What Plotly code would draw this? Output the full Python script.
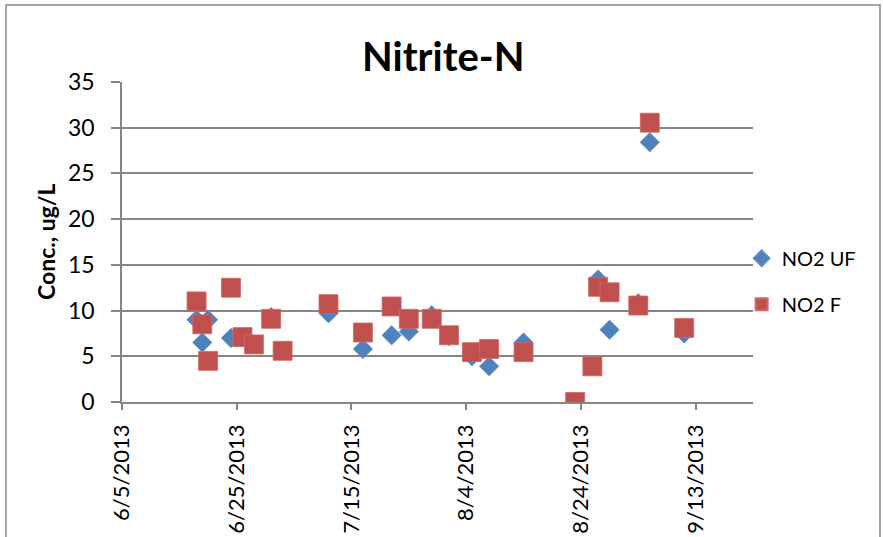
import plotly.graph_objects as go

# ---- data ----
dates = ["2013-06-18", "2013-06-19", "2013-06-20", "2013-06-24", "2013-06-26",
         "2013-06-28", "2013-07-01", "2013-07-03", "2013-07-11", "2013-07-17",
         "2013-07-22", "2013-07-25", "2013-07-29", "2013-08-01", "2013-08-05",
         "2013-08-08", "2013-08-14", "2013-08-23", "2013-08-26", "2013-08-27",
         "2013-08-29", "2013-09-03", "2013-09-05", "2013-09-11"]
no2_uf = [9.0, 6.5, 9.0, 7.0, 7.1, 6.3, 9.3, 5.6, 9.7, 5.8,
          7.3, 7.7, 9.5, 7.2, 5.0, 3.9, 6.5, 0.0, 3.9, 13.4,
          7.9, 10.8, 28.4, 7.5]
no2_f = [11.0, 8.5, 4.5, 12.5, 7.1, 6.3, 9.1, 5.6, 10.7, 7.6,
         10.45, 9.1, 9.1, 7.3, 5.45, 5.8, 5.45, 0.0, 3.9, 12.6,
         12.0, 10.55, 30.55, 8.1]

x_tick_vals = ["2013-06-05", "2013-06-25", "2013-07-15", "2013-08-04",
               "2013-08-24", "2013-09-13"]
x_tick_text = ["6/5/2013", "6/25/2013", "7/15/2013", "8/4/2013",
               "8/24/2013", "9/13/2013"]
x_range = ["2013-06-05", "2013-09-23"]
y_ticks = [0, 5, 10, 15, 20, 25, 30, 35]

BLUE = "#4F81BD"
RED = "#C0504D"
GRID = "#868686"
FONT = "Lato"

fig = go.Figure()
fig.add_trace(go.Scatter(
    x=dates, y=no2_uf, mode="markers", name="NO2 UF", legendgroup="a",
    marker=dict(symbol="diamond", size=15, color=BLUE,
                line=dict(width=0.5, color="#5B8CC6")),
))
fig.add_trace(go.Scatter(
    x=dates, y=no2_f, mode="markers", name="NO2 F", legendgroup="b",
    marker=dict(symbol="square", size=19, color=RED,
                line=dict(width=0.8, color="#D06A67")),
))

fig.update_layout(
    width=883, height=537,
    margin=dict(l=122, r=130, t=82, b=135, autoexpand=False),
    paper_bgcolor="white", plot_bgcolor="white",
    font=dict(family=FONT, size=21, color="black"),
    title=dict(text="<b>Nitrite-N</b>", font=dict(family=FONT, size=40, color="black"),
               xref="container", x=0.502, xanchor="center",
               yref="container", y=(537 - 57) / 537, yanchor="middle"),
    showlegend=True,
    legend=dict(x=0.982, xanchor="left", y=0.51, yanchor="top",
                traceorder="grouped", tracegroupgap=17,
                itemsizing="constant",
                font=dict(family=FONT, size=20, color="black"),
                bgcolor="rgba(0,0,0,0)", borderwidth=0),
    xaxis=dict(type="date", range=x_range, tickmode="array",
               tickvals=x_tick_vals, ticktext=x_tick_text, tickangle=-90,
               showgrid=False, zeroline=False, automargin=False,
               showline=True, linecolor=GRID, linewidth=1.5,
               ticks="outside", ticklen=6, tickcolor=GRID, tickwidth=1.5,
               ticklabelstandoff=6,
               tickfont=dict(family=FONT, size=22, color="black")),
    yaxis=dict(range=[0, 35], tickmode="array", tickvals=y_ticks,
               showgrid=True, gridcolor=GRID, gridwidth=1.5, automargin=False,
               zeroline=False, showline=True, linecolor=GRID, linewidth=1.5,
               ticks="outside", ticklen=9, tickcolor=GRID, tickwidth=1.5,
               ticklabelstandoff=12,
               tickfont=dict(family=FONT, size=23, color="black")),
)

# y-axis title as rotated annotation
fig.add_annotation(text="<b>Conc., ug/L</b>", textangle=-90,
                   xref="paper", yref="paper",
                   x=(46 - 122) / 631, y=(402 - 242) / 320,
                   xanchor="center", yanchor="middle", showarrow=False,
                   font=dict(family=FONT, size=23, color="black"))

# chart outer border
fig.add_shape(type="rect", xref="paper", yref="paper",
              x0=(6 - 122) / 631, x1=(880 - 122) / 631,
              y0=(402 - 560) / 320, y1=(402 - 5) / 320,
              line=dict(color=GRID, width=1.5), fillcolor="rgba(0,0,0,0)",
              layer="below")

fig.write_html("out.html")
